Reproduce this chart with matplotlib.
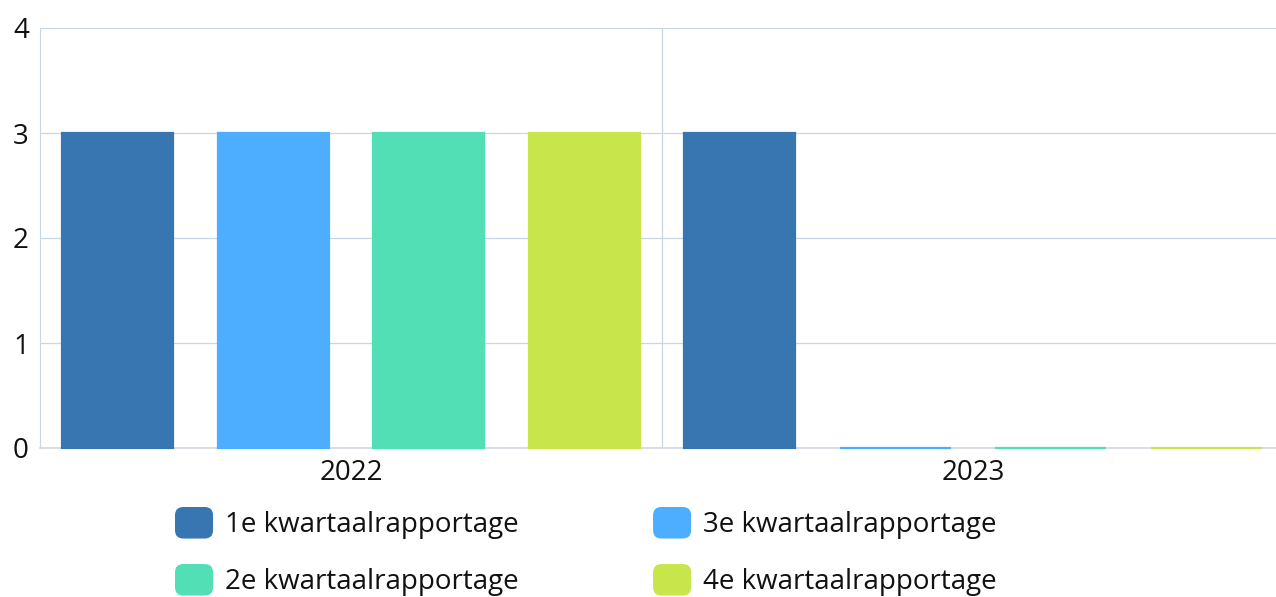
import matplotlib.pyplot as plt
from matplotlib.patches import FancyBboxPatch
from matplotlib.legend_handler import HandlerPatch

years = ['2022', '2023']
series_names = ['1e kwartaalrapportage', '3e kwartaalrapportage',
                '2e kwartaalrapportage', '4e kwartaalrapportage']
values = {
    '1e kwartaalrapportage': [3, 3],
    '3e kwartaalrapportage': [3, 0],
    '2e kwartaalrapportage': [3, 0],
    '4e kwartaalrapportage': [3, 0],
}
colors = {
    '1e kwartaalrapportage': '#3876b1',
    '3e kwartaalrapportage': '#4dadff',
    '2e kwartaalrapportage': '#52dfb5',
    '4e kwartaalrapportage': '#c8e64c',
}
y_ticks = [0, 1, 2, 3, 4]

plt.rcParams['font.family'] = ['Open Sans', 'DejaVu Sans']

W, H = 1276, 597
fig = plt.figure(figsize=(W / 100, H / 100), dpi=100)
ax = fig.add_axes([40 / W, (H - 448) / H, 1244 / W, 420 / H])

grid_color = '#c9d6e3'
bar_w = 0.178
offsets = [-0.375, -0.125, 0.125, 0.375]
handles = {}
for name, off in zip(series_names, offsets):
    xs = [i + off for i in range(len(years))]
    # edge keeps zero-valued bars visible as a thin line on the baseline
    bars = ax.bar(xs, values[name], width=bar_w, color=colors[name],
                  edgecolor=colors[name], linewidth=1.6, zorder=3, clip_on=False)
    handles[name] = bars

ax.set_xlim(-0.5, len(years) - 0.5)
ax.set_ylim(0, 4)
ax.set_xticks(range(len(years)))
ax.set_xticklabels(years)
ax.set_xticks([0.5], minor=True)
ax.set_yticks(y_ticks)
ax.tick_params(axis='both', which='both', length=0, labelsize=20, colors='#111111')
ax.tick_params(axis='x', pad=8)
ax.tick_params(axis='y', pad=8)
ax.grid(axis='y', which='major', color=grid_color, linewidth=0.9, zorder=0)
ax.grid(axis='x', which='minor', color=grid_color, linewidth=0.9, zorder=0)
for side in ['top', 'right']:
    ax.spines[side].set_visible(False)
ax.spines['left'].set_color(grid_color)
ax.spines['bottom'].set_color('#d3d8de')
ax.spines['bottom'].set_linewidth(1.2)
ax.spines['bottom'].set_zorder(2)


class RoundedHandler(HandlerPatch):
    def create_artists(self, legend, orig_handle, xdescent, ydescent,
                       width, height, fontsize, trans):
        p = FancyBboxPatch((-xdescent, -ydescent), width, height,
                           boxstyle='round,pad=0,rounding_size=6',
                           facecolor=orig_handle.get_facecolor(),
                           edgecolor='none', transform=trans)
        return [p]


# two columns, filled column by column: 1e/2e left, 3e/4e right
leg_order = ['1e kwartaalrapportage', '2e kwartaalrapportage',
             '3e kwartaalrapportage', '4e kwartaalrapportage']
leg = fig.legend([handles[n].patches[0] for n in leg_order], leg_order,
                 ncol=2, loc='upper left', bbox_to_anchor=(150 / W, 1 - 482 / H),
                 frameon=False, fontsize=20,
                 handlelength=1.37, handleheight=1.37, handletextpad=0.42,
                 columnspacing=4.85, labelspacing=0.9,
                 handler_map={plt.Rectangle: RoundedHandler()})
for t in leg.get_texts():
    t.set_color('#111111')

fig.savefig('out.png', dpi=100)
